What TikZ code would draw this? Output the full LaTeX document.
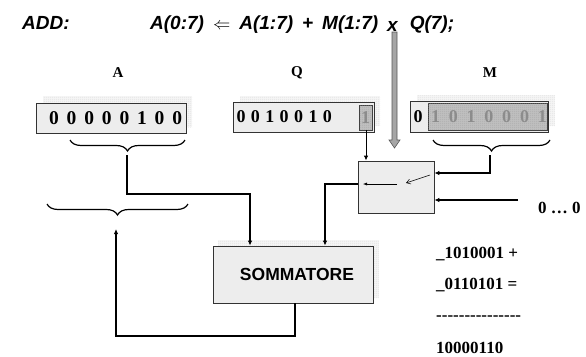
\documentclass[tikz,border=0pt]{standalone}
\usepackage{fontspec}
\setmainfont{Liberation Serif}
\newfontfamily\sansf{Liberation Sans}
\usetikzlibrary{arrows.meta,decorations.pathreplacing,patterns}
\pgfdeclarepatternformonly{finegrid}{\pgfpointorigin}{\pgfqpoint{2pt}{2pt}}{\pgfqpoint{2pt}{2pt}}{%
  \pgfsetlinewidth{0.3pt}%
  \pgfpathmoveto{\pgfqpoint{0pt}{0pt}}\pgfpathlineto{\pgfqpoint{2pt}{0pt}}%
  \pgfpathmoveto{\pgfqpoint{0pt}{0pt}}\pgfpathlineto{\pgfqpoint{0pt}{2pt}}%
  \pgfusepath{stroke}}
\newcommand{\gp}{\hspace{9pt}}
\begin{document}
\begin{tikzpicture}[x=1pt,y=-1pt,
  regbox/.style={draw=black!80, line width=0.8pt, fill=black!7},
  shadowfill/.style={fill=black!4},
  shadowgrid/.style={pattern=finegrid, pattern color=black!20},
  innerbox/.style={draw=black!75, line width=0.8pt, fill=black!25},
  innergrid/.style={pattern=finegrid, pattern color=black!40},
  adig/.style={inner sep=0pt, font=\fontsize{19.5}{21}\selectfont\bfseries},
  qdig/.style={inner sep=0pt, font=\fontsize{18}{20}\selectfont\bfseries},
  gdig/.style={inner sep=0pt, font=\fontsize{18}{20}\selectfont\bfseries, text=black!45},
  reglabel/.style={inner sep=0pt, font=\fontsize{15}{17}\selectfont\bfseries},
  title/.style={inner sep=0pt, anchor=base west, font=\fontsize{19}{21}\selectfont\sansf\bfseries\itshape},
  arith/.style={inner sep=0pt, anchor=west, font=\fontsize{17}{19}\selectfont\bfseries},
  bracestyle/.style={draw, line width=1.2pt, decorate, decoration={brace, mirror, amplitude=11pt}},
  conn/.style={draw, line width=1.2pt, -{Latex[length=5pt,width=4.5pt]}},
  thinarrow/.style={draw, line width=0.5pt},
]
\useasboundingbox (0,0) rectangle (586,356);

% title
\node[title] (add) at (22,29) {ADD:};
\node[title] (formula) at (150,29) {A(0:7)\gp$\Leftarrow$\gp A(1:7)\gp+\gp M(1:7)\gp\raisebox{-2pt}{x}\hspace{12pt}Q(7);};

% big gray arrow
\coordinate (bigtop) at (394.5,28);
\coordinate (bigtip) at (394.5,148);
\draw[fill=black!35, draw=black!65, line width=0.6pt]
  (392,32) -- (397,32) -- (397,140) -- (400,140) -- (bigtip) -- (389,140) -- (392,140) -- cycle;

% labels
\node[reglabel] (lA) at (118,73) {A};
\node[reglabel] (lQ) at (297,73) {Q};
\node[reglabel] (lM) at (490,73) {M};

% register A
\path[shadowfill] (43,96) rectangle (192,127);
\path[shadowgrid] (43,96) rectangle (192,127);
\path[regbox] (36,103) rectangle (186,133);
\foreach \d [count=\i] in {0,0,0,0,0,1,0,0}
  \node[adig] (a\i) at ({54+17.6*(\i-1)},118) {\d};

% register Q
\path[shadowfill] (240,96) rectangle (380,126);
\path[shadowgrid] (240,96) rectangle (380,126);
\path[regbox] (233,102) rectangle (374,132);
\foreach \d [count=\i] in {0,0,1,0,0,1,0}
  \node[qdig] (q\i) at ({241+14.4*(\i-1)},117) {\d};
\path[innerbox] (359,105) rectangle (372,130);
\path[innergrid] (359,105) rectangle (372,130);
\node[gdig] (q8) at (365.5,117.5) {1};
\coordinate (qbit) at (366,130);

% register M
\path[shadowfill] (417,95) rectangle (555,126);
\path[shadowgrid] (417,95) rectangle (555,126);
\path[regbox] (410,101) rectangle (548,132);
\node[qdig] (m0) at (418,117) {0};
\path[innerbox] (428,103) rectangle (547,130);
\path[innergrid] (428,103) rectangle (547,130);
\foreach \d [count=\i] in {1,0,1,0,0,0,1}
  \node[gdig] (m\i) at ({435.5+17.8*(\i-1)},117) {\d};

% braces
\path[bracestyle] (70,140) -- (185,140);
\coordinate (Atip) at (127,155);
\path[bracestyle] (433,140) -- (550,140);
\coordinate (Mtip) at (490,155);
\path[bracestyle] (47,204) -- (188,204);
\coordinate (Rtip) at (116,222);

% mux
\node[draw=black!80, line width=0.8pt, fill=black!7, minimum width=76pt, minimum height=52pt, inner sep=0pt] (mux) at (396,187) {};
\draw[thinarrow, -{Straight Barb[length=4pt,width=5pt]}] (430,175) -- (406,183);
\draw[thinarrow, -{Latex[length=4pt,width=3pt]}] (397,184) -- (363,184);

% sommatore
\path[shadowfill] (218,240) rectangle (379,298);
\path[shadowgrid] (218,240) rectangle (379,298);
\node[draw=black!80, line width=0.8pt, fill=black!7, minimum width=160pt, minimum height=57pt, inner sep=0pt,
  font=\fontsize{17.5}{20}\selectfont\sansf\bfseries] (sum) at (293,274.5) {\hspace*{8pt}SOMMATORE};

% zero input
\node[inner sep=0pt, anchor=west, font=\fontsize{17}{19}\selectfont\bfseries] (zeros) at (538,208) {0 … 0};
\coordinate (zin) at (518,200);

% connectors
\draw[conn] (Atip) -- (127,194) -- (250,194) -- (sum.north -| 250,0);
\draw[conn, line width=1pt] (qbit) -- (mux.north -| qbit);
\draw[conn] (Mtip) -- (490,173) -- (mux.east |- 0,173);
\draw[conn] (zin) -- (mux.east |- zin);
\draw[conn, line width=1.5pt] (mux.west |- 0,184) -- (325,184) -- (sum.north -| 325,0);
\draw[conn] (sum.south -| 295,0) -- (295,336) -- (116,336) -- (116,229);

% arithmetic
\node[arith] (l1) at (436,254) {\_1010001 +};
\node[arith] (l2) at (436,285) {\_0110101 =};
\node[arith] (l3) at (436,318) {-{}-{}-{}-{}-{}-{}-{}-{}-{}-{}-{}-{}-{}-{}-};
\node[arith] (l4) at (436,348) {10000110};
\end{tikzpicture}
\end{document}
